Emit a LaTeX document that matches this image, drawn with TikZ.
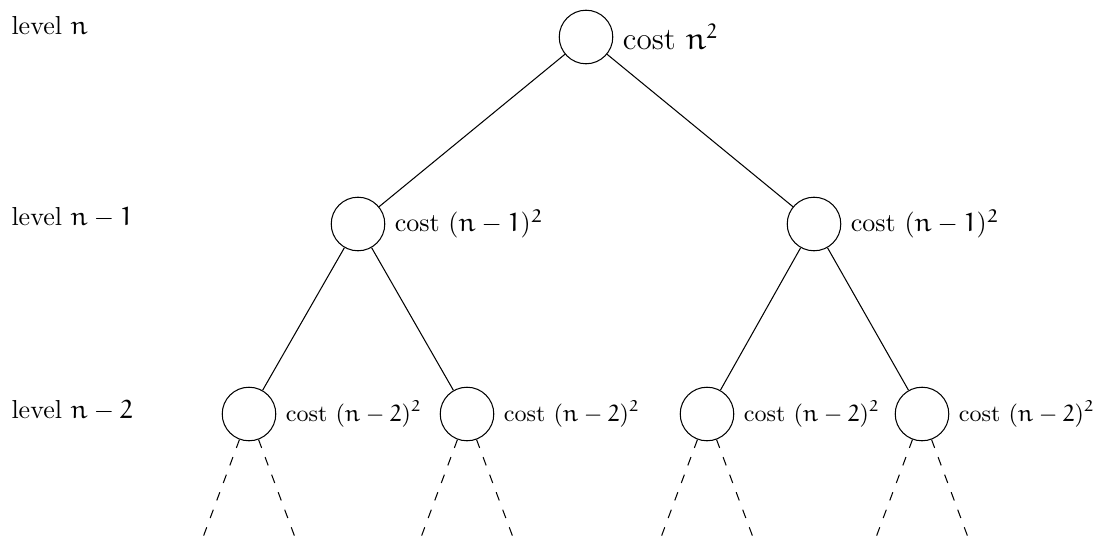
\documentclass[tikz,border=0pt]{standalone}
\IfFileExists{ueur.fd}{\DeclareMathAlphabet{\eu}{U}{eur}{m}{n}}{\newcommand{\eu}[1]{\mathrm{#1}}}
\begin{document}
\begin{tikzpicture}[x=0.3846pt,y=-0.3846pt,
  nd/.style={draw,circle,minimum size=20.6pt,inner sep=0pt},
  lvl/.style={anchor=base west,inner sep=0pt},
  cst/.style={anchor=west,inner sep=3.5pt},
  dsh/.style={dashed,dash pattern=on 3.4pt off 3.8pt}]
\useasboundingbox (0,0) rectangle (1102,538);
% nodes
\node[nd] (r) at (586,37) {};
\node[nd] (a) at (358,224) {};
\node[nd] (b) at (814,224) {};
\node[nd] (aa) at (249,414) {};
\node[nd] (ab) at (467,414) {};
\node[nd] (ba) at (707,414) {};
\node[nd] (bb) at (922,414) {};
% cost labels
\node[cst,font=\large] (lr) at (r.east) {cost $\eu{n}^{\eu{2}}$};
\node[cst] (la) at (a.east) {cost $(\eu{n}-\eu{1})^{\eu{2}}$};
\node[cst] (lb) at (b.east) {cost $(\eu{n}-\eu{1})^{\eu{2}}$};
\node[cst,font=\small] (laa) at (aa.east) {cost $(\eu{n}-\eu{2})^{\eu{2}}$};
\node[cst,font=\small] (lab) at (ab.east) {cost $(\eu{n}-\eu{2})^{\eu{2}}$};
\node[cst,font=\small] (lba) at (ba.east) {cost $(\eu{n}-\eu{2})^{\eu{2}}$};
\node[cst,font=\small] (lbb) at (bb.east) {cost $(\eu{n}-\eu{2})^{\eu{2}}$};
% level labels
\node[lvl] (l0) at (11,35) {level $\eu{n}$};
\node[lvl] (l1) at (11,225) {level $\eu{n}-\eu{1}$};
\node[lvl] (l2) at (11,418) {level $\eu{n}-\eu{2}$};
% edges
\draw (r) -- (a);
\draw (r) -- (b);
\draw (a) -- (aa);
\draw (a) -- (ab);
\draw (b) -- (ba);
\draw (b) -- (bb);
% dashed continuation
\foreach \n/\x in {aa/249,ab/467,ba/707,bb/922}{
  \coordinate (\n L) at (\x-47,540);
  \coordinate (\n R) at (\x+47,540);
  \draw[dsh] (\n) -- (\n L);
  \draw[dsh] (\n) -- (\n R);
}
\end{tikzpicture}
\end{document}
